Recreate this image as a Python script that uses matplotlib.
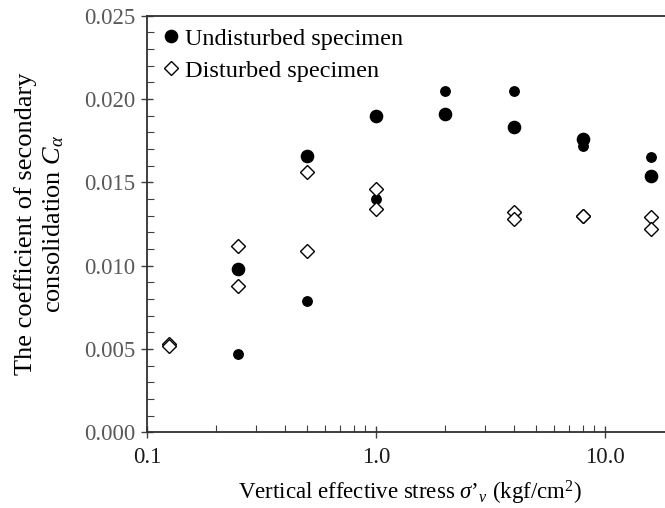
import matplotlib
matplotlib.use("Agg")
from matplotlib import pyplot as plt
from matplotlib.ticker import FixedLocator, FormatStrFormatter, LogLocator, MultipleLocator

plt.rcParams["font.family"] = ["Liberation Serif", "DejaVu Serif"]
plt.rcParams["mathtext.fontset"] = "custom"
plt.rcParams["mathtext.rm"] = "Liberation Serif"
plt.rcParams["mathtext.it"] = "Liberation Serif:italic"

# Vertical effective stress (kgf/cm2) and secondary consolidation coefficients
undist_x = [0.25, 0.5, 1.0, 2.0, 4.0, 8.0, 16.0]
undist_a = [0.0098, 0.0166, 0.0190, 0.0191, 0.0183, 0.0176, 0.0154]
undist_b = [0.0047, 0.0079, 0.0140, 0.0205, 0.0205, 0.0172, 0.0165]

dist_x = [0.125, 0.25, 0.5, 1.0, 4.0, 8.0, 16.0]
dist_a = [0.0053, 0.0112, 0.0156, 0.0146, 0.0132, 0.0130, 0.0129]
dist_b = [0.0052, 0.0088, 0.0109, 0.0134, 0.0128, 0.0130, 0.0122]

fig = plt.figure(figsize=(6.65, 5.08), dpi=100)
ax = fig.add_axes([0.221, 0.149, 0.792, 0.82])

ax.plot(undist_x, undist_a, "o", color="black", ms=8.8, label="Undisturbed specimen")
ax.plot(undist_x, undist_b, "o", color="black", ms=6.8)
ax.plot(dist_x, dist_a, "D", mfc="white", mec="black", mew=1.0, ms=7.2,
        label="Disturbed specimen")
ax.plot(dist_x, dist_b, "D", mfc="white", mec="black", mew=1.0, ms=7.2)

ax.set_xscale("log")
ax.set_xlim(0.1, 20)
ax.set_ylim(0, 0.025)

ax.xaxis.set_major_locator(FixedLocator([0.1, 1.0, 10.0]))
ax.xaxis.set_major_formatter(FormatStrFormatter("%.1f"))
ax.xaxis.set_minor_locator(LogLocator(base=10, subs=range(2, 10)))
ax.xaxis.set_minor_formatter(plt.NullFormatter())
ax.yaxis.set_major_locator(MultipleLocator(0.005))
ax.yaxis.set_minor_locator(MultipleLocator(0.001))
ax.yaxis.set_major_formatter(FormatStrFormatter("%.3f"))

ax.tick_params(which="major", direction="inout", length=9, width=1.0, color="#404040")
ax.tick_params(which="minor", direction="in", length=5, width=0.8, color="#404040")
ax.tick_params(axis="y", labelsize=16.5, labelcolor="#595959", pad=4)
ax.tick_params(axis="x", labelsize=16.5, labelcolor="#1a1a1a", pad=6)

for side in ["left", "bottom", "top"]:
    ax.spines[side].set_color("#303030")
    ax.spines[side].set_linewidth(1.3)
ax.spines["right"].set_visible(False)

ax.set_xlabel("Vertical effective stress $\\sigma$’$_{\\nu}$ (kgf/cm$^2$)",
              fontsize=16.5, labelpad=8)
ax.set_ylabel("The coefficient of secondary\nconsolidation $C_{\\alpha}$",
              fontsize=19, labelpad=13)

ax.legend(loc="upper left", frameon=False, fontsize=17.5, handletextpad=0.05,
          borderaxespad=0.2, borderpad=0.3, handlelength=1.0, labelspacing=0.4)

fig.savefig("out.png", dpi=100)
